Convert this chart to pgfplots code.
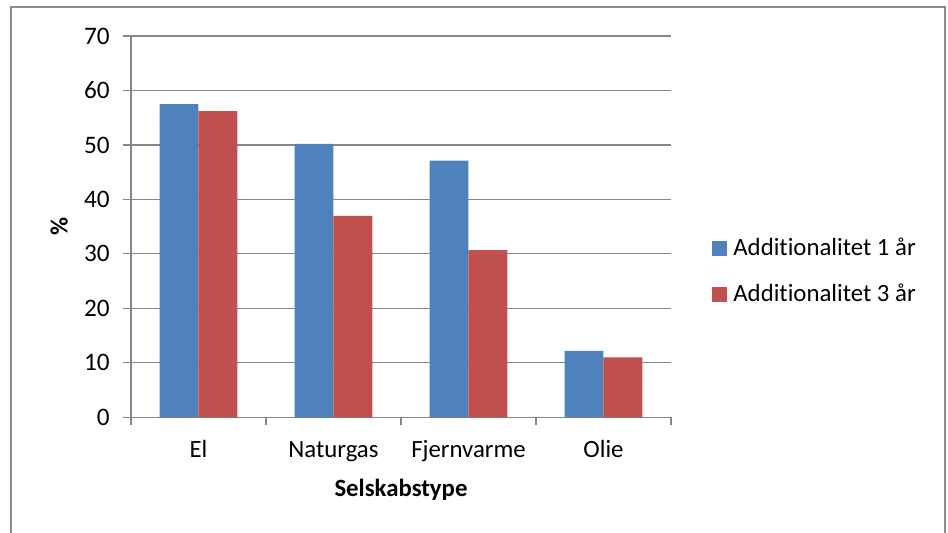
\documentclass[border=0pt]{standalone}
\usepackage{fontspec}
\setmainfont{Carlito}[Ligatures=NoCommon]
\usepackage{pgfplots}
\pgfplotsset{compat=1.18}
\definecolor{xblue}{HTML}{4F81BD}
\definecolor{xred}{HTML}{C0504D}
\definecolor{xgrid}{HTML}{868686}
\definecolor{xframe}{HTML}{8C8C8C}
\newcommand{\fs}{\fontsize{12.4}{14.9}\selectfont}
\begin{document}
\fs
\begin{tikzpicture}
\useasboundingbox (0,0) rectangle (474pt,266pt);
\draw[xframe, line width=0.9pt] (5.5pt,-10pt) -- (5.5pt,262.5pt) -- (472.5pt,262.5pt) -- (472.5pt,-10pt);
\begin{axis}[
  at={(65.5pt,57.35pt)}, anchor=south west,
  scale only axis, width=270pt, height=190.65pt,
  xmin=-0.5, xmax=3.5, ymin=0, ymax=70,
  ybar=0pt, bar width=19.4pt,
  axis x line*=bottom, axis y line*=left,
  axis line style={xgrid, line width=0.6pt},
  every tick/.style={xgrid, line width=0.6pt},
  tick align=outside, major tick length=4pt,
  ytick={0,10,...,70},
  ymajorgrids, grid style={xgrid, line width=0.6pt},
  xtick={-0.5,0.5,1.5,2.5,3.5},
  x tick label as interval,
  xticklabels={El,Naturgas,Fjernvarme,Olie},
  /pgf/number format/assume math mode=true,
  yticklabel style={anchor=east, inner sep=0pt, xshift=-6.5pt, font=\fontsize{12.6}{15}\selectfont},
  xticklabel style={anchor=base, inner sep=0pt, yshift=-16.1pt, font=\fs},
  xlabel={\textbf{Selskabstype}},
  xlabel style={at={(axis description cs:0.5,0)}, anchor=base, yshift=-39.7pt, font=\fs},
  ylabel={\textbf{\%}},
  ylabel style={at={(axis description cs:0,0.5)}, anchor=center, rotate=0, yshift=35.85pt, font=\fs},
  legend style={at={(axis description cs:1.0759,0.383)}, anchor=west, draw=none, fill=none, inner sep=0pt,
    row sep=12.5pt, font=\fs,
    nodes={inner sep=0pt, font=\fs}},
  legend cell align=left,
  legend image code/.code={\fill[#1] (0pt,-3.75pt) rectangle (7.5pt,3.75pt); \path (10.5pt,0pt);},
]
\addplot[fill=xblue, draw=none] coordinates {(0,57.5) (1,50.2) (2,47.1) (3,12.2)};
\addplot[fill=xred, draw=none] coordinates {(0,56.2) (1,37.0) (2,30.7) (3,11.0)};
\legend{Additionalitet 1 år, Additionalitet 3 år}
\end{axis}
\end{tikzpicture}
\end{document}
